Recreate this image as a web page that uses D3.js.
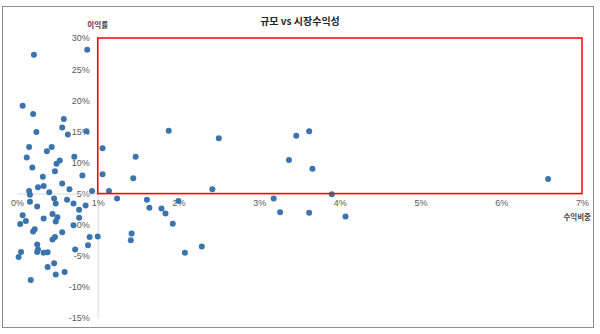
<!DOCTYPE html>
<html>
<head>
<meta charset="utf-8">
<script src="https://cdn.jsdelivr.net/npm/d3@7"></script>
<style>
  body { margin: 0; background: #fff; }
  .tick text { fill: #595959; font-family: "Liberation Sans", Arial, sans-serif; font-size: 9px; }
</style>
</head>
<body>
<div id="chart"></div>
<script>
let width = 600
let height = 334

// 수익비중 (x), 이익률 (y), both in %
let share = [0.21, 0.87, 0.07, 0.20, 0.58, 0.56, 0.24, 0.63, 0.86, 0.15, 0.43, 0.37, 0.12, 0.71, 0.53, 0.49, 0.19, 0.47, 0.32, 0.81,
  0.56, 0.26, 0.33, 0.65, 0.15, 0.16, 0.40, 0.93, 0.16, 0.46, 0.48, 0.62, 0.70, 0.85, 0.77, 0.25, 0.44, 0.07, 0.50, 0.33,
  0.11, 0.04, 0.48, 0.77, 0.70, 0.22, 0.20, 0.56, 0.47, 0.44, 0.90, 1.00, 0.88, 0.25, 0.26, 0.25, 0.33, 0.38, 0.72, 0.05,
  0.02, 0.46, 0.38, 0.48, 0.59, 0.17,
  1.06, 1.06, 1.14, 1.88, 2.50, 1.47, 1.44, 2.42, 1.24, 1.61, 1.64, 1.79, 1.84, 2.00, 1.93, 1.42, 1.41, 2.29, 2.08,
  3.46, 3.62, 3.37, 3.66, 3.90, 3.18, 3.26, 3.62, 4.07, 6.58]
let margin = [27.3, 28.1, 19.1, 17.8, 17.0, 15.6, 14.9, 14.5, 15.0, 12.5, 12.5, 11.8, 10.8, 10.9, 10.3, 9.8, 9.2, 8.6, 7.7, 7.9,
  6.6, 6.0, 6.2, 5.7, 5.4, 4.8, 5.2, 5.4, 3.7, 4.2, 3.4, 4.0, 3.4, 3.1, 2.4, 2.9, 1.7, 1.5, 1.2, 1.0,
  0.6, 0.1, 0.5, 1.1, -0.1, -0.75, -1.1, -1.2, -2.0, -2.4, -2.0, -1.9, -3.3, -3.2, -4.0, -4.4, -4.5, -4.45, -4.0, -4.4,
  -5.2, -6.2, -6.8, -8.0, -7.6, -8.9,
  12.3, 8.1, 5.4, 15.1, 13.9, 10.9, 7.45, 5.7, 4.2, 4.0, 2.7, 2.6, 1.8, 3.8, 0.15, -1.4, -2.5, -3.5, -4.5,
  14.3, 15.0, 10.4, 9.0, 4.9, 4.2, 2.0, 1.9, 1.3, 7.35]

let xTicks = [0, 1, 2, 3, 4, 5, 6, 7]
let yTicks = [-15, -10, -5, 0, 5, 10, 15, 20, 25, 30]
// highlighted quadrant: share 1%~7%, margin 5%~30%
let boxX = [1, 7]
let boxY = [5, 30]

let points = share.map((d, i) => ({ x: d, y: margin[i] }))

let x = d3.scaleLinear().domain([0, 7]).range([17, 582])
let y = d3.scaleLinear().domain([-15, 30]).range([318, 38])

let svg = d3.select('#chart')
  .append('svg')
  .attr('width', width)
  .attr('height', height)

svg.append('rect')
  .attr('x', 2.5).attr('y', 6.5)
  .attr('width', 591).attr('height', 321)
  .attr('fill', 'none')
  .attr('stroke', '#8c8c8c')
  .attr('stroke-width', 1)

svg.append('text')
  .attr('x', 300).attr('y', 25)
  .attr('text-anchor', 'middle')
  .style('font-family', '"Noto Sans CJK KR", sans-serif')
  .style('font-size', '10px')
  .style('font-weight', 'bold')
  .attr('fill', '#262626')
  .text('규모 vs 시장수익성')

// y axis sits at 1%
let yAxis = svg.append('g')
  .attr('transform', `translate(${x(1)},0)`)
  .call(d3.axisLeft(y).tickValues(yTicks).tickSize(0).tickPadding(8).tickFormat(d => d + '%'))
yAxis.select('.domain').attr('stroke', '#d9d9d9')

// x axis crosses at 5%
let xAxis = svg.append('g')
  .attr('transform', `translate(0,${y(5)})`)
  .call(d3.axisBottom(x).tickValues(xTicks).tickSize(0).tickPadding(6).tickFormat(d => d + '%'))
xAxis.select('.domain').attr('stroke', '#d9d9d9')

svg.append('text')
  .attr('x', x(1)).attr('y', 28)
  .attr('text-anchor', 'middle')
  .style('font-family', '"Noto Sans CJK KR", sans-serif')
  .style('font-size', '7.5px')
  .style('font-weight', 'bold')
  .attr('fill', '#404040')
  .text('이익률')

svg.append('text')
  .attr('x', 591).attr('y', 220)
  .attr('text-anchor', 'end')
  .style('font-family', '"Noto Sans CJK KR", sans-serif')
  .style('font-size', '7.5px')
  .style('font-weight', 'bold')
  .attr('fill', '#404040')
  .text('수익비중')

svg.append('g')
  .selectAll('circle')
  .data(points)
  .join('circle')
  .attr('cx', d => x(d.x))
  .attr('cy', d => y(d.y))
  .attr('r', 3)
  .attr('fill', '#3a74ad')

svg.append('rect')
  .attr('x', x(boxX[0]))
  .attr('y', y(boxY[1]))
  .attr('width', x(boxX[1]) - x(boxX[0]))
  .attr('height', y(boxY[0]) - y(boxY[1]))
  .attr('fill', 'none')
  .attr('stroke', '#ff0000')
  .attr('stroke-width', 1.5)
</script>
</body>
</html>
